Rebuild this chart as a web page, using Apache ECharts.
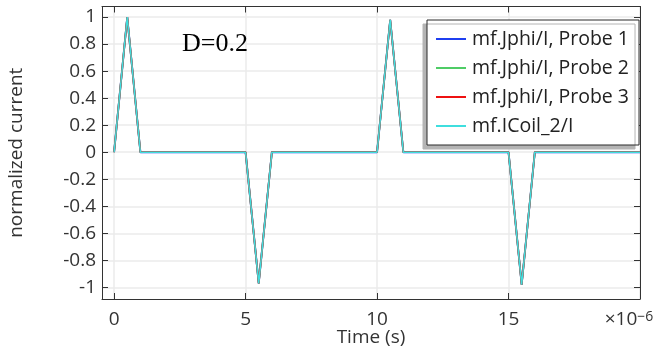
<!DOCTYPE html>
<html>
<head>
<meta charset="utf-8">
<script src="https://cdn.jsdelivr.net/npm/echarts@6/dist/echarts.min.js"></script>
<style>
html,body{margin:0;padding:0;background:#fff;}
#chart{width:653px;height:352px;}
</style>
</head>
<body>
<div id="chart"></div>
<script>
// ---- data (time in microseconds, normalized current) ----
const times   = [0, 0.5, 1, 5, 5.5, 6, 10, 10.5, 11, 15, 15.5, 16, 20];
const probe1  = [0, 1.0, 0, 0, -0.97, 0, 0, 0.98, 0, 0, -0.98, 0, 0];
const probe2  = [0, 1.0, 0, 0, -0.97, 0, 0, 0.98, 0, 0, -0.98, 0, 0];
const probe3  = [0, 1.0, 0, 0, -0.97, 0, 0, 0.98, 0, 0, -0.98, 0, 0];
const icoil   = [0, 1.0, 0, 0, -0.97, 0, 0, 0.98, 0, 0, -0.98, 0, 0];
const seriesNames = ['mf.Jphi/I, Probe 1', 'mf.Jphi/I, Probe 2', 'mf.Jphi/I, Probe 3', 'mf.ICoil_2/I'];
const xTicks = [0, 5, 10, 15, 20];
const yTicks = [-1, -0.8, -0.6, -0.4, -0.2, 0, 0.2, 0.4, 0.6, 0.8, 1];
const annotation = 'D=0.2';

const pairs = arr => times.map((t, i) => [t, arr[i]]);
const FONT = 'Open Sans';
const axisCol = '#333';
const gridCol = '#ebebeb';

const chart = echarts.init(document.getElementById('chart'), null, {renderer: 'canvas'});
const baseX = {
  type: 'value', min: -0.46, max: 20,
  axisLine: {show: true, onZero: false, lineStyle: {color: axisCol, width: 1}},
  axisTick: {show: true, inside: true, length: 6, customValues: xTicks, lineStyle: {color: axisCol}},
};
const baseY = {
  type: 'value', min: -1.086, max: 1.078,
  axisLine: {show: true, onZero: false, lineStyle: {color: axisCol, width: 1}},
  axisTick: {show: true, inside: true, length: 6, customValues: yTicks, lineStyle: {color: axisCol}},
};
const colors = ['#1f3ff0', '#4fcc66', '#ee1111', '#3fdede'];
chart.setOption({
  animation: false,
  textStyle: {fontFamily: FONT},
  title: {
    text: annotation, left: 182, top: 31, padding: 0,
    textStyle: {fontFamily: 'Liberation Serif', fontSize: 26, fontWeight: 'normal', color: '#000'}
  },
  grid: {left: 102, right: 13, top: 6.5, bottom: 53, containLabel: false, outerBoundsMode: 'none'},
  legend: {
    orient: 'vertical', left: 427, top: 20,
    padding: [9, 10, 9, 9], itemGap: 9,
    itemWidth: 30, itemHeight: 2, icon: 'rect',
    backgroundColor: '#fff', borderColor: '#2b2b2b', borderWidth: 1,
    shadowColor: '#b4b4b4', shadowBlur: 0, shadowOffsetX: -4, shadowOffsetY: 4,
    textStyle: {fontFamily: FONT, fontSize: 19.5, color: '#222', padding: [0, 0, 0, 1]},
    data: seriesNames
  },
  xAxis: [
    Object.assign({}, baseX, {
      position: 'bottom',
      name: 'Time (s)', nameLocation: 'middle', nameGap: 29, nameMoveOverlap: false,
      nameTextStyle: {fontFamily: FONT, fontSize: 19, color: '#333'},
      axisLabel: {
        show: true, margin: 11, customValues: xTicks, color: '#333', fontFamily: FONT, fontSize: 19,
        formatter: v => v === 20 ? '{m|×10}{s|−6}' : String(v),
        rich: {
          m: {fontFamily: FONT, fontSize: 19, color: '#333', padding: [0, 0, 0, 0]},
          s: {fontFamily: FONT, fontSize: 14, color: '#333', verticalAlign: 'top', padding: [0, 22, 0, 0]}
        }
      },
      splitLine: {show: true, lineStyle: {color: gridCol, width: 1.5}}
    }),
    Object.assign({}, baseX, {
      position: 'top', axisLabel: {show: false}, splitLine: {show: false}
    })
  ],
  yAxis: [
    Object.assign({}, baseY, {
      position: 'left',
      name: 'normalized current', nameLocation: 'middle', nameGap: 76, nameMoveOverlap: false,
      nameTextStyle: {fontFamily: FONT, fontSize: 19, color: '#333'},
      axisLabel: {
        show: true, margin: 6, customValues: yTicks, color: '#333', fontFamily: FONT, fontSize: 19,
        formatter: v => String(Math.round(v * 10) / 10)
      },
      splitLine: {show: true, lineStyle: {color: gridCol, width: 1.5}}
    }),
    Object.assign({}, baseY, {
      position: 'right', axisLabel: {show: false}, splitLine: {show: false}
    })
  ],
  series: [
    {name: seriesNames[0], type: 'line', data: pairs(probe1), symbol: 'none', color: colors[0], lineStyle: {width: 1.9}, z: 2},
    {name: seriesNames[1], type: 'line', data: pairs(probe2), symbol: 'none', color: colors[1], lineStyle: {width: 1.8}, z: 3},
    {name: seriesNames[2], type: 'line', data: pairs(probe3), symbol: 'none', color: colors[2], lineStyle: {width: 1.7}, z: 4},
    {name: seriesNames[3], type: 'line', data: pairs(icoil), symbol: 'none', color: colors[3], lineStyle: {width: 1.5}, z: 5}
  ]
});
</script>
</body>
</html>
